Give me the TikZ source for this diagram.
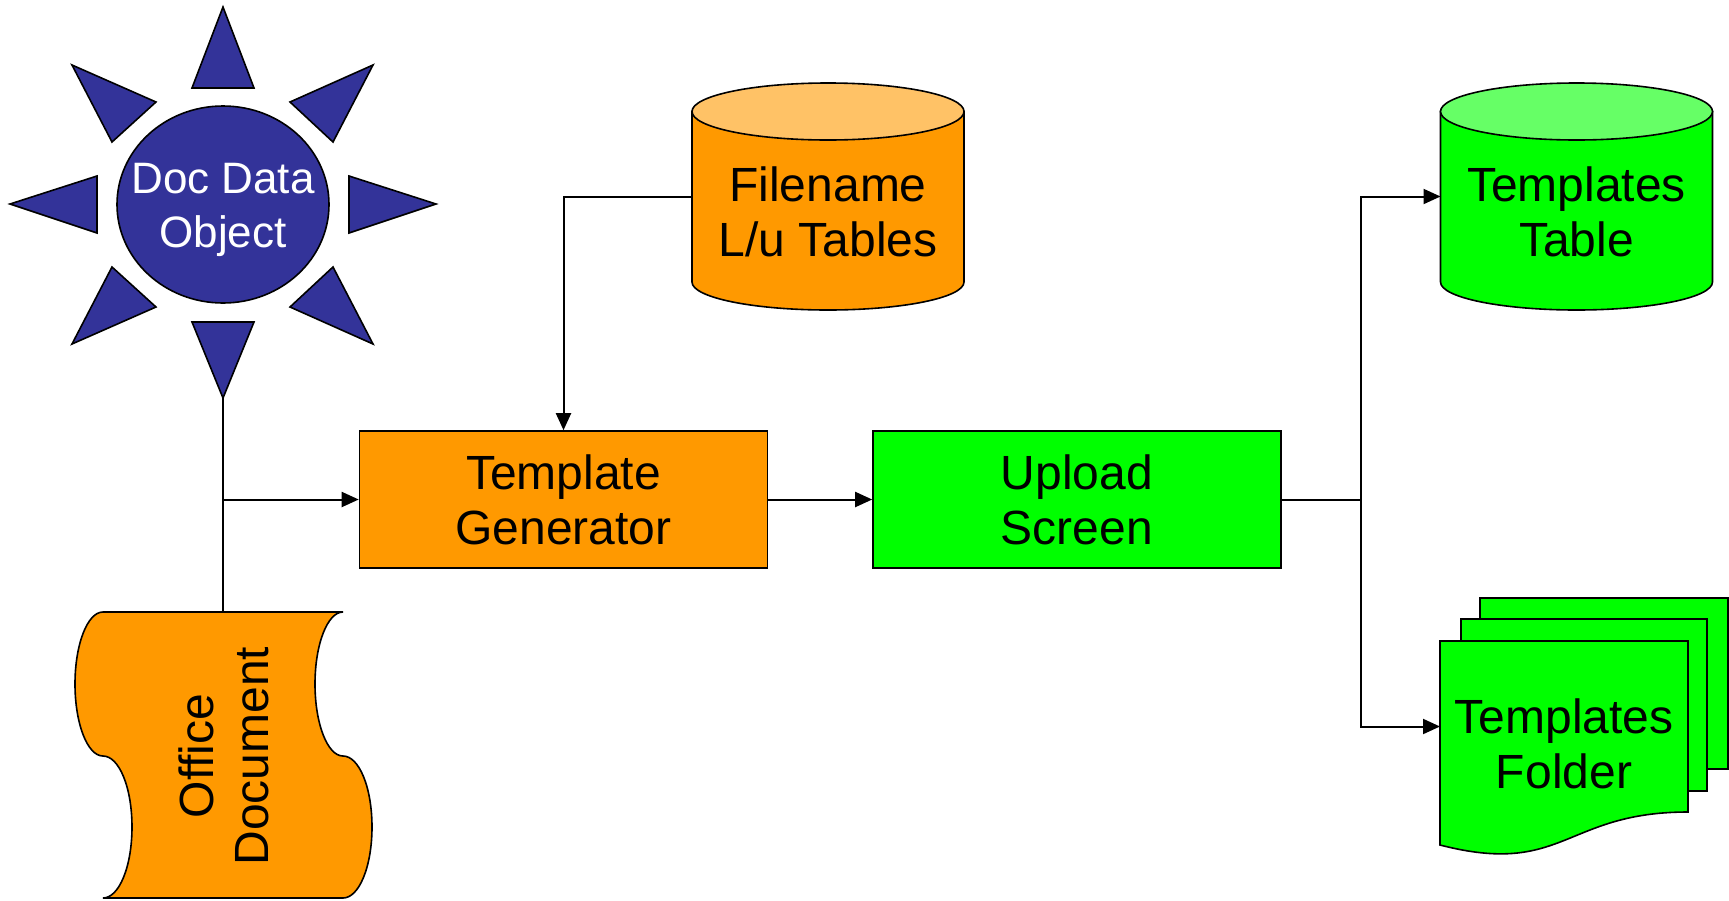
\documentclass[tikz,border=0pt]{standalone}
\usepackage{fontspec}
\setmainfont{Liberation Sans}
\usetikzlibrary{arrows.meta,shapes.geometric}
\definecolor{orng}{RGB}{255,153,0}
\definecolor{orngtop}{RGB}{255,194,102}
\definecolor{grn}{RGB}{0,255,0}
\definecolor{grntop}{RGB}{102,255,102}
\definecolor{sunblue}{RGB}{51,51,153}
\begin{document}
\begin{tikzpicture}[x=0.5pt,y=-0.5pt,
  outl/.style={draw=black,line width=0.8pt},
  lbl/.style={font=\fontsize{24}{27.5}\selectfont,align=center,inner sep=0pt,text=black},
  procbox/.style={outl,rectangle,minimum width=204pt,minimum height=68.5pt,inner sep=0pt,font=\fontsize{24}{27.5}\selectfont,align=center},
  conn/.style={line width=1pt,draw=black},
  arr/.style={conn,-{Triangle[length=8.5pt,width=7.5pt]}},
  ray/.style={outl,fill=sunblue,line join=miter},
  zone/.style={inner sep=0pt,outer sep=0pt}
]
\useasboundingbox (0,0) rectangle (1729,900);

% ---- sun (Doc Data Object)
\path[ray] (223,7) -- (254,88) -- (192,88) -- cycle;
\path[ray] (72,65) -- (156,102) -- (112,142) -- cycle;
\path[ray] (373,65) -- (290,102) -- (333,142) -- cycle;
\path[ray] (10,204) -- (97,176) -- (97,233) -- cycle;
\path[ray] (436,204) -- (349,176) -- (349,233) -- cycle;
\path[ray] (112,267) -- (156,307) -- (72,344) -- cycle;
\path[ray] (333,267) -- (290,307) -- (373,344) -- cycle;
\path[ray] (192,322) -- (254,322) -- (223,398) -- cycle;
\node[ellipse,outl,fill=sunblue,minimum width=106pt,minimum height=98.5pt,inner sep=0pt] (sun) at (223,204.5) {};
\node[lbl,text=white,font=\fontsize{22}{27}\selectfont] (suntxt) at (223,210) {Doc Data\\Object};
\coordinate (sunb) at (223,398);

% ---- Office Document
\path[outl,fill=orng] (103,612) -- (343,612)
  .. controls (327.5,612) and (315,644.2) .. (315,684)
  .. controls (315,723.8) and (327.5,756) .. (343,756)
  .. controls (359,756) and (372,787.2) .. (372,827)
  .. controls (372,866.8) and (359,898) .. (343,898)
  -- (103,898)
  .. controls (119,898) and (132,866.8) .. (132,827)
  .. controls (132,787.2) and (119,756) .. (103,756)
  .. controls (87.5,756) and (75,723.8) .. (75,684)
  .. controls (75,644.2) and (87.5,612) .. (103,612) -- cycle;
\node[lbl,rotate=90] (odtxt) at (224,756) {Office\\Document};
\coordinate (odtop) at (223,612);

% ---- Filename L/u Tables cylinder
\path[outl,fill=orng] (692,111.5) -- (692,282) .. controls (692,297.5) and (752.9,310) .. (828,310)
  .. controls (903.1,310) and (964,297.5) .. (964,282) -- (964,111.5) -- cycle;
\path[outl,fill=orngtop] (828,111.5) ellipse [x radius=68pt, y radius=14.25pt];
\node[zone,minimum width=136pt,minimum height=113.5pt] (fn) at (828,196.5) {};
\node[lbl] (fntxt) at (828,212) {Filename\\L/u Tables};

% ---- Templates Table cylinder
\path[outl,fill=grn] (1440.5,111.5) -- (1440.5,282) .. controls (1440.5,297.5) and (1501.4,310) .. (1576.5,310)
  .. controls (1651.6,310) and (1712.5,297.5) .. (1712.5,282) -- (1712.5,111.5) -- cycle;
\path[outl,fill=grntop] (1576.5,111.5) ellipse [x radius=68pt, y radius=14.25pt];
\node[zone,minimum width=136pt,minimum height=113.5pt] (tt) at (1576.5,196.5) {};
\node[lbl] (tttxt) at (1576.5,212) {Templates\\Table};

% ---- Templates Folder (multi-document)
\path[outl,fill=grn] (1480,598) rectangle (1728,769);
\path[outl,fill=grn] (1461,619) rectangle (1707,791);
\path[outl,fill=grn] (1440,641) -- (1688,641) -- (1688,812)
  .. controls (1564,812) and (1564,877) .. (1440,845) -- cycle;
\node[zone,minimum width=124pt,minimum height=85.5pt] (tf) at (1564,726.5) {};
\node[lbl] (tftxt) at (1564,744) {Templates\\Folder};

% ---- process boxes
\node[procbox,fill=orng] (tg) at (563.5,499.5) {Template\\Generator};
\node[procbox,fill=grn] (us) at (1077,499.5) {Upload\\Screen};

% ---- connectors
\coordinate (jn) at (223,499.5);
\coordinate (sj) at (1361,499.5);
\draw[conn] (sunb) -- (odtop);
\draw[arr] (jn) -- (tg.west);
\draw[arr] (fn.west) -| (tg.north);
\draw[arr] (tg.east) -- (us.west);
\draw[conn] (us.east) -- (sj);
\draw[arr] (sj) |- (tt.west);
\draw[arr] (sj) |- (tf.west);
\end{tikzpicture}
\end{document}
